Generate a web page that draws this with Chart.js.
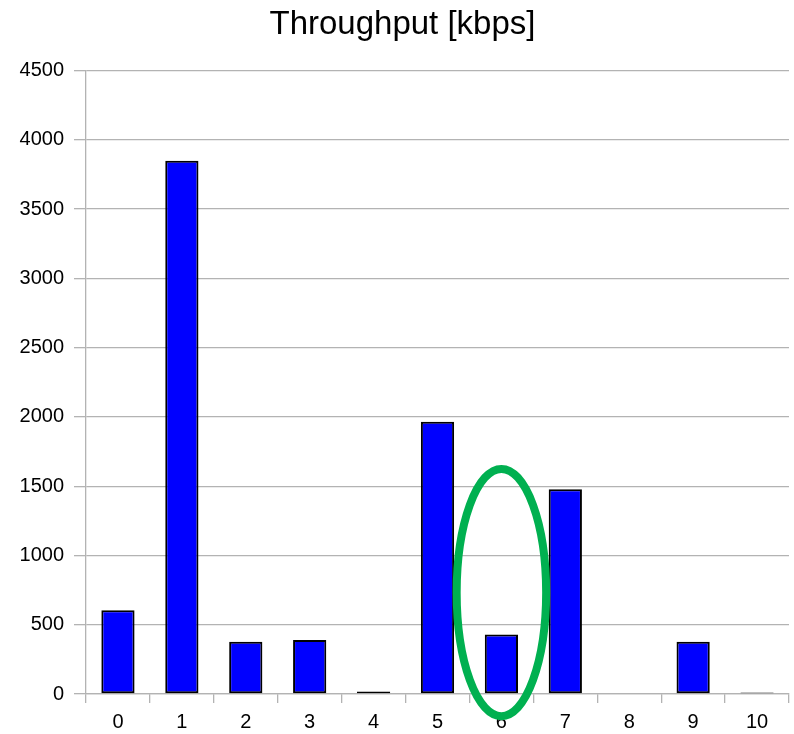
<!DOCTYPE html>
<html>
<head>
<meta charset="utf-8">
<script src="https://cdn.jsdelivr.net/npm/chart.js@4/dist/chart.umd.min.js"></script>
<style>
  html, body { margin: 0; padding: 0; background: #fff; }
  #wrap { width: 794px; height: 734px; position: relative; }
</style>
</head>
<body>
<div id="wrap"><canvas id="c" width="794" height="734"></canvas></div>
<script>
// ---- data ----
const categories = ['0', '1', '2', '3', '4', '5', '6', '7', '8', '9', '10'];
const throughput = [605, 3850, 378, 390, 18, 1965, 430, 1478, 0, 378, 10];
const chartTitle = 'Throughput [kbps]';
const yMin = 0;
const yMax = 4500;
const yStep = 500;
// highlight ellipse around category 6 (value-space extent)
const highlightCategory = 6;
const highlightHalfWidth = 0.7;   // in category widths
const highlightTop = 1625;
const highlightBottom = -160;

const ellipsePlugin = {
  id: 'highlightEllipse',
  afterDraw(chart) {
    const x = chart.scales.x, y = chart.scales.y;
    const cx = x.getPixelForValue(highlightCategory);
    const step = x.getPixelForValue(highlightCategory + 1) - cx;
    const rx = highlightHalfWidth * step;
    const yt = y.getPixelForValue(highlightTop);
    const yb = y.getPixelForValue(highlightBottom);
    const ctx = chart.ctx;
    ctx.save();
    ctx.beginPath();
    ctx.ellipse(cx, (yt + yb) / 2, rx, (yb - yt) / 2, 0, 0, Math.PI * 2);
    ctx.strokeStyle = '#00B050';
    ctx.lineWidth = 8;
    ctx.stroke();
    ctx.restore();
  }
};

const FONT = "'Liberation Sans', Arial, sans-serif";
const GRID = '#b3b3b3';

new Chart(document.getElementById('c'), {
  type: 'bar',
  data: {
    labels: categories,
    datasets: [{
      data: throughput,
      backgroundColor: '#0000FF',
      borderColor: '#000000',
      borderWidth: 2,
      borderSkipped: false,
      barPercentage: 0.52,
      categoryPercentage: 1.0
    }]
  },
  options: {
    responsive: false,
    animation: false,
    devicePixelRatio: 1,
    layout: { padding: { left: 16, right: 5, top: 0, bottom: 0 } },
    plugins: {
      legend: { display: false },
      tooltip: { enabled: false },
      title: {
        display: true,
        text: chartTitle,
        color: '#000',
        font: { family: FONT, size: 33, weight: 'normal' },
        padding: { top: 5, bottom: 26 }
      }
    },
    scales: {
      x: {
        type: 'category',
        offset: true,
        afterFit(s) { s.height = 40; },
        grid: {
          offset: true,
          drawOnChartArea: true,
          color: (ctx) => ctx.index === categories.length ? GRID : 'rgba(0,0,0,0)',
          tickColor: GRID,
          tickLength: 9,
          lineWidth: 1.3
        },
        border: { color: GRID, width: 1.3 },
        ticks: {
          color: '#000',
          font: { family: FONT, size: 20 },
          padding: 7,
          maxRotation: 0,
          autoSkip: false
        }
      },
      y: {
        min: yMin,
        max: yMax,
        afterFit(s) { s.width = 70; },
        grid: {
          color: GRID,
          tickLength: 12,
          lineWidth: 1.3
        },
        border: { color: GRID, width: 1.3 },
        ticks: {
          stepSize: yStep,
          color: '#000',
          font: { family: FONT, size: 20 },
          padding: 10,
          callback: (v) => String(v)
        }
      }
    }
  },
  plugins: [ellipsePlugin]
});
</script>
</body>
</html>
